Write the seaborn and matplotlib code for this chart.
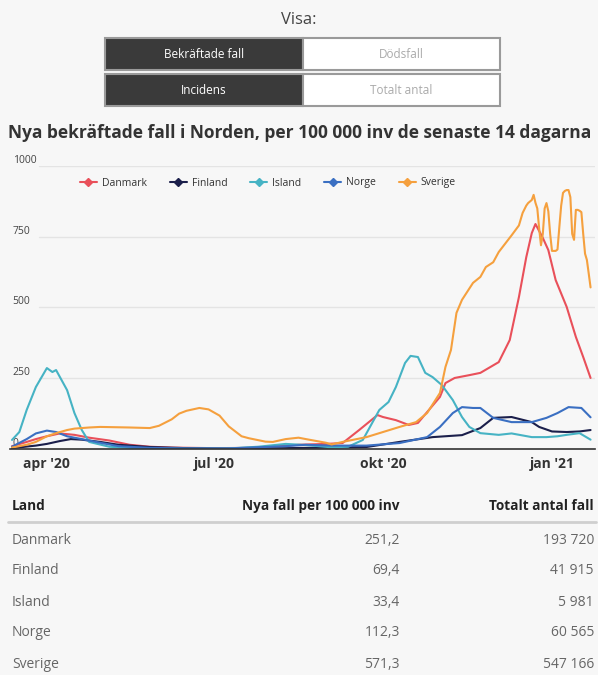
import pandas as pd
import seaborn as sns
import matplotlib.pyplot as plt
from matplotlib.lines import Line2D
from matplotlib.patches import Rectangle

sns.set_theme(style="white")
plt.rcParams['font.family'] = ['Open Sans', 'DejaVu Sans']

# 14-day incidence per 100 000
danmark = [("2020-03-13", 10), ("2020-03-21", 25), ("2020-03-26", 35), ("2020-04-01", 45),
           ("2020-04-08", 55), ("2020-04-16", 50), ("2020-04-24", 40), ("2020-05-05", 30),
           ("2020-05-16", 15), ("2020-05-27", 8), ("2020-06-08", 5), ("2020-07-01", 3),
           ("2020-07-20", 4), ("2020-08-02", 8), ("2020-08-16", 15), ("2020-08-31", 18),
           ("2020-09-09", 21), ("2020-09-18", 67), ("2020-09-28", 120), ("2020-10-01", 113),
           ("2020-10-08", 102), ("2020-10-15", 85), ("2020-10-20", 92), ("2020-10-26", 138),
           ("2020-11-01", 184), ("2020-11-04", 233), ("2020-11-09", 251), ("2020-11-17", 261),
           ("2020-11-23", 269), ("2020-12-03", 307), ("2020-12-09", 385), ("2020-12-14", 537),
           ("2020-12-18", 678), ("2020-12-21", 763), ("2020-12-23", 795), ("2020-12-27", 746),
           ("2020-12-30", 703), ("2021-01-03", 597), ("2021-01-09", 502), ("2021-01-14", 396),
           ("2021-01-18", 325), ("2021-01-22", 251)]
finland = [("2020-03-13", 3), ("2020-03-26", 12), ("2020-04-01", 18), ("2020-04-08", 28),
           ("2020-04-14", 35), ("2020-04-20", 33), ("2020-04-30", 25), ("2020-05-10", 15),
           ("2020-05-27", 7), ("2020-06-16", 3), ("2020-07-09", 1), ("2020-08-09", 3),
           ("2020-08-31", 5), ("2020-09-22", 7), ("2020-10-10", 25), ("2020-10-28", 42),
           ("2020-11-13", 49), ("2020-11-23", 74), ("2020-11-30", 110), ("2020-12-10", 113),
           ("2020-12-21", 95), ("2020-12-25", 78), ("2021-01-01", 62), ("2021-01-09", 60),
           ("2021-01-16", 62), ("2021-01-22", 67)]
island = [("2020-03-13", 32), ("2020-03-17", 60), ("2020-03-21", 138), ("2020-03-26", 219),
          ("2020-04-01", 286), ("2020-04-04", 272), ("2020-04-06", 279), ("2020-04-12", 208),
          ("2020-04-16", 127), ("2020-04-20", 67), ("2020-04-24", 25), ("2020-05-05", 8),
          ("2020-05-21", 2), ("2020-06-16", 1), ("2020-07-09", 2), ("2020-07-25", 8),
          ("2020-08-09", 18), ("2020-08-20", 14), ("2020-09-03", 6), ("2020-09-12", 8),
          ("2020-09-20", 32), ("2020-09-29", 138), ("2020-10-04", 166), ("2020-10-08", 219),
          ("2020-10-13", 304), ("2020-10-16", 329), ("2020-10-20", 325), ("2020-10-24", 269),
          ("2020-10-28", 254), ("2020-11-02", 226), ("2020-11-08", 173), ("2020-11-13", 113),
          ("2020-11-17", 78), ("2020-11-23", 56), ("2020-12-03", 50), ("2020-12-10", 55),
          ("2020-12-21", 42), ("2020-12-29", 42), ("2021-01-04", 45), ("2021-01-09", 50),
          ("2021-01-16", 56), ("2021-01-22", 33)]
norge = [("2020-03-13", 8), ("2020-03-21", 35), ("2020-03-26", 55), ("2020-04-01", 65),
         ("2020-04-06", 60), ("2020-04-12", 45), ("2020-04-20", 35), ("2020-04-30", 22),
         ("2020-05-10", 10), ("2020-05-27", 4), ("2020-06-16", 2), ("2020-07-09", 2),
         ("2020-08-09", 10), ("2020-08-20", 15), ("2020-09-03", 12), ("2020-09-22", 12),
         ("2020-10-10", 21), ("2020-10-25", 42), ("2020-11-01", 78), ("2020-11-08", 127),
         ("2020-11-13", 148), ("2020-11-19", 145), ("2020-11-23", 145), ("2020-11-30", 110),
         ("2020-12-10", 95), ("2020-12-21", 95), ("2020-12-29", 110), ("2021-01-04", 127),
         ("2021-01-10", 148), ("2021-01-17", 145), ("2021-01-22", 112)]
sverige = [("2020-03-13", 5), ("2020-03-21", 15), ("2020-03-26", 25), ("2020-04-01", 45),
           ("2020-04-06", 56), ("2020-04-12", 67), ("2020-04-16", 72), ("2020-04-24", 76),
           ("2020-04-30", 78), ("2020-05-16", 76), ("2020-05-27", 74), ("2020-06-01", 82),
           ("2020-06-08", 105), ("2020-06-12", 125), ("2020-06-16", 135), ("2020-06-23", 145),
           ("2020-06-28", 140), ("2020-07-04", 118), ("2020-07-09", 80), ("2020-07-16", 45),
           ("2020-07-20", 38), ("2020-07-29", 26), ("2020-08-02", 25), ("2020-08-09", 35),
           ("2020-08-16", 40), ("2020-08-20", 35), ("2020-08-31", 22), ("2020-09-03", 16),
           ("2020-09-09", 25), ("2020-09-22", 42), ("2020-10-10", 78), ("2020-10-19", 95),
           ("2020-10-25", 127), ("2020-11-01", 198), ("2020-11-04", 290), ("2020-11-07", 350),
           ("2020-11-10", 481), ("2020-11-13", 527), ("2020-11-19", 587), ("2020-11-23", 608),
           ("2020-11-26", 643), ("2020-11-30", 660), ("2020-12-03", 696), ("2020-12-10", 755),
           ("2020-12-14", 790), ("2020-12-16", 834), ("2020-12-18", 860), ("2020-12-19", 869),
           ("2020-12-21", 880), ("2020-12-22", 898), ("2020-12-23", 870), ("2020-12-24", 850),
           ("2020-12-25", 780), ("2020-12-26", 720), ("2020-12-27", 760), ("2020-12-28", 850),
           ("2020-12-29", 869), ("2020-12-30", 840), ("2020-12-31", 760), ("2021-01-01", 700),
           ("2021-01-02", 700), ("2021-01-03", 700), ("2021-01-04", 705), ("2021-01-05", 784),
           ("2021-01-06", 860), ("2021-01-07", 905), ("2021-01-08", 912), ("2021-01-09", 915),
           ("2021-01-10", 915), ("2021-01-11", 890), ("2021-01-12", 760), ("2021-01-13", 739),
           ("2021-01-14", 845), ("2021-01-15", 845), ("2021-01-16", 842), ("2021-01-17", 837),
           ("2021-01-18", 760), ("2021-01-19", 690), ("2021-01-20", 668), ("2021-01-21", 620),
           ("2021-01-22", 571)]

lander = ["Danmark", "Finland", "Island", "Norge", "Sverige"]
farger = ["#e9505a", "#1b1f4b", "#46b3c4", "#3a6fc2", "#f5a03e"]
nya_fall = [251.2, 69.4, 33.4, 112.3, 571.3]
totalt = [193720, 41915, 5981, 60565, 547166]

yticks = [0, 250, 500, 750, 1000]
xtick_dates = ["2020-04-01", "2020-07-01", "2020-10-01", "2021-01-01"]
xtick_labels = ["apr '20", "jul '20", "okt '20", "jan '21"]

rows = []
for land, serie in zip(lander, [danmark, finland, island, norge, sverige]):
    for d, v in serie:
        rows.append({"Land": land, "Datum": pd.Timestamp(d), "Fall": v})
df = pd.DataFrame(rows)
palette = dict(zip(lander, farger))

bg = "#f7f7f7"
W, H = 598, 675
fig = plt.figure(figsize=(W / 100, H / 100), dpi=100, facecolor=bg)

# overlay for the page elements (pixel coordinates)
page = fig.add_axes([0, 0, 1, 1])
page.set_xlim(0, W)
page.set_ylim(H, 0)
page.axis("off")

ax = fig.add_axes([10 / W, 1 - 449 / H, 585 / W, 283 / H])
ax.set_facecolor("none")

for v in yticks[1:]:
    ax.axhline(v, xmin=0.05, color="#e4e4e4", lw=1, zorder=0)

sns.lineplot(data=df, x="Datum", y="Fall", hue="Land", palette=palette,
             estimator=None, linewidth=1.5, legend=False, ax=ax)

ax.set_xlim(pd.Timestamp("2020-03-11 22:00"), pd.Timestamp("2021-01-24 10:00"))
ax.set_ylim(0, 1000)
ax.set_xlabel("")
ax.set_ylabel("")
ax.set_xticks(pd.to_datetime(xtick_dates))
ax.set_xticklabels(xtick_labels, fontsize=10, fontweight="bold", color="#333333")
ax.set_yticks(yticks)
ax.set_yticklabels([str(v) for v in yticks], fontsize=7.5, color="#444444")
ax.tick_params(axis="x", length=0, pad=6)
ax.tick_params(axis="y", length=0, pad=-2)
for t in ax.get_yticklabels():
    t.set_ha("left")
    t.set_va("bottom")
for s in ["left", "top", "right"]:
    ax.spines[s].set_visible(False)
ax.spines["bottom"].set_color("#333333")
ax.spines["bottom"].set_linewidth(1.2)

handles = [Line2D([0], [0], color=c, lw=1.5, marker="D", markersize=4) for c in farger]
fig.legend(handles, lander, loc="center", bbox_to_anchor=(268 / W, 1 - 183 / H), ncol=5,
           frameon=False, fontsize=7.5, handlelength=1.6, handletextpad=0.5,
           columnspacing=2.2, labelcolor="#333333")

# "Visa:" toggle buttons
page.text(W / 2, 20, "Visa:", ha="center", va="center", fontsize=12, color="#444444")
knappar = [("Bekräftade fall", "Dödsfall"), ("Incidens", "Totalt antal")]
for i, (vald, annan) in enumerate(knappar):
    y0 = 38 + i * 36
    page.add_patch(Rectangle((105, y0), 198, 32, fc="#3a3a3a", ec="#9a9a9a", lw=1.5))
    page.add_patch(Rectangle((303, y0), 197, 32, fc="white", ec="#9a9a9a", lw=1.5))
    page.text(204, y0 + 16, vald, ha="center", va="center", fontsize=8.5, color="white")
    page.text(401, y0 + 16, annan, ha="center", va="center", fontsize=8.5, color="#aaaaaa")

page.text(8, 133, "Nya bekräftade fall i Norden, per 100 000 inv de senaste 14 dagarna",
          ha="left", va="center", fontsize=12.5, fontweight="bold", color="#333333")

# table
page.text(12, 506, "Land", ha="left", va="center", fontsize=9.8, fontweight="bold", color="#222222")
page.text(400, 506, "Nya fall per 100 000 inv", ha="right", va="center", fontsize=9.8,
          fontweight="bold", color="#222222")
page.text(594, 506, "Totalt antal fall", ha="right", va="center", fontsize=9.8,
          fontweight="bold", color="#222222")
page.plot([8, 596], [522, 522], color="#cfcfcf", lw=2)
for i, (land, nf, tot) in enumerate(zip(lander, nya_fall, totalt)):
    y = 540 + i * 31
    page.text(12, y, land, ha="left", va="center", fontsize=10, color="#666666")
    page.text(400, y, f"{nf:.1f}".replace(".", ","), ha="right", va="center",
              fontsize=10, color="#666666")
    page.text(594, y, f"{tot:,}".replace(",", " "), ha="right", va="center",
              fontsize=10, color="#666666")

fig.savefig("out.png", dpi=100, facecolor=bg)
